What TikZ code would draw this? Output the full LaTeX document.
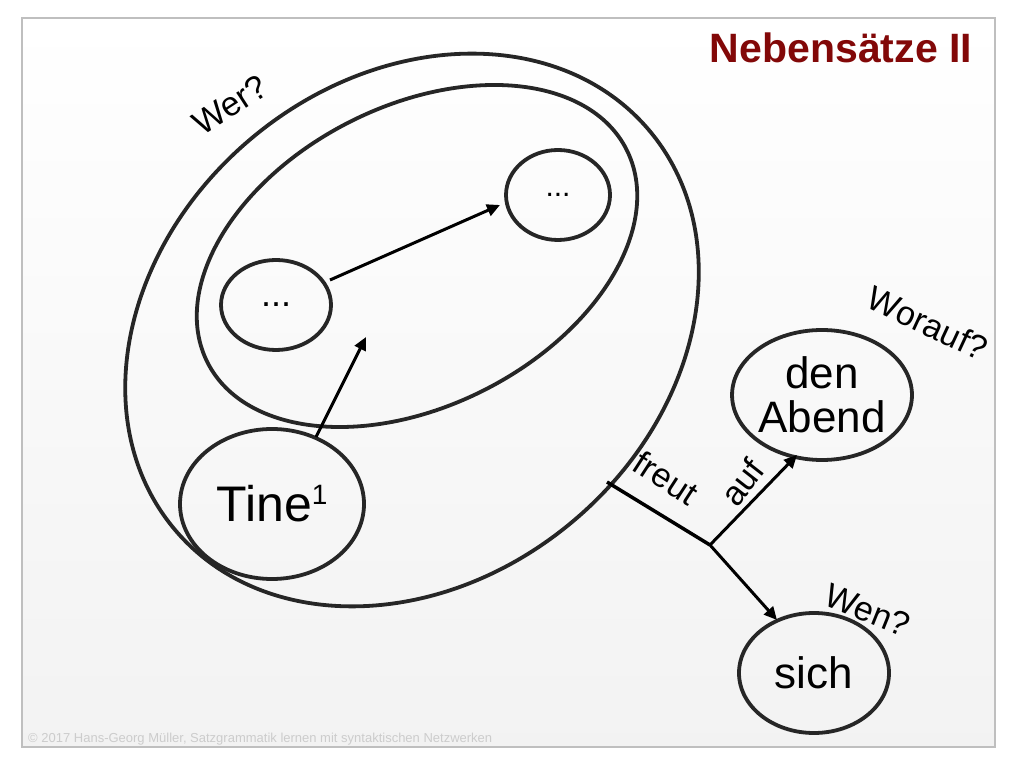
\documentclass[tikz,border=0pt]{standalone}
\usepackage{fontspec}
\setmainfont{Liberation Sans}
\usetikzlibrary{arrows.meta,shapes.geometric}
\definecolor{titlered}{RGB}{130,8,8}
\tikzset{
  ring/.style={draw=black!85,line width=3.8pt},
  arr/.style={draw=black,line width=3pt,-{Triangle[length=13pt,width=12pt]}},
  lbl/.style={font=\fontsize{34}{36}\selectfont,inner sep=0pt},
  big/.style={font=\fontsize{44}{46}\selectfont,align=center,inner sep=0pt}
}
\begin{document}
\begin{tikzpicture}[x=1pt,y=1pt]
\useasboundingbox (0,0) rectangle (1024,768);
\fill[white] (0,0) rectangle (1024,768);
\shade[top color=white,bottom color=black!5,draw=black!25,line width=1.5pt] (22,21) rectangle (995,750);
% ellipses
\draw[ring,rotate around={40:(412,438)}] (412,438) ellipse [x radius=310,y radius=250];
\draw[ring,rotate around={27:(417,512)}] (417,512) ellipse [x radius=235,y radius=150];
\node[ring,ellipse,minimum width=104,minimum height=90,inner sep=0] (d1) at (558,573) {\fontsize{30}{32}\selectfont...};
\node[ring,ellipse,minimum width=110,minimum height=90,inner sep=0] (d2) at (276,463) {\fontsize{36}{38}\selectfont...};
\node[ring,ellipse,minimum width=184,minimum height=150,inner sep=0] (tine) at (272,264) {\fontsize{50}{52}\selectfont Tine\raisebox{17pt}{\fontsize{28}{30}\selectfont 1}};
\node[ring,ellipse,minimum width=176,minimum height=130,inner sep=0,big] (abend) at (822,373) {den\\[-2pt]Abend};
\node[ring,ellipse,minimum width=150,minimum height=120,inner sep=0,big] (sich) at (814,95) {sich};
\coordinate (a1s) at (330,488);
\coordinate (a1e) at (500,563);
\coordinate (a2s) at (316,331);
\coordinate (a2e) at (366,431);
\coordinate (br) at (607,286);
\coordinate (j) at (710,223);
\coordinate (ae) at (797,313);
\coordinate (se) at (777,148);
\draw[arr] (a1s) -- (a1e);
\draw[arr] (a2s) -- (a2e);
\draw[black,line width=3.5pt] (br) -- (j);
\draw[arr] (j) -- (ae);
\draw[arr] (j) -- (se);
% labels
\node[lbl,rotate=33] (wer) at (230,663) {Wer?};
\node[lbl,rotate=-25] (worauf) at (928,445) {Worauf?};
\node[lbl,rotate=-22] (wen) at (868,158) {Wen?};
\node[lbl,rotate=-33] (freut) at (666,290) {freut};
\node[lbl,rotate=52] (auf) at (742,286) {auf};
\node[font=\bfseries\fontsize{41}{43}\selectfont,text=titlered,inner sep=0] (title) at (841,720) {Nebensätze II};
\node[font=\fontsize{13}{14}\selectfont,text=black!20,anchor=south west,inner sep=0] (copy) at (28,23) {© 2017 Hans-Georg Müller, Satzgrammatik lernen mit syntaktischen Netzwerken};
\end{tikzpicture}
\end{document}
